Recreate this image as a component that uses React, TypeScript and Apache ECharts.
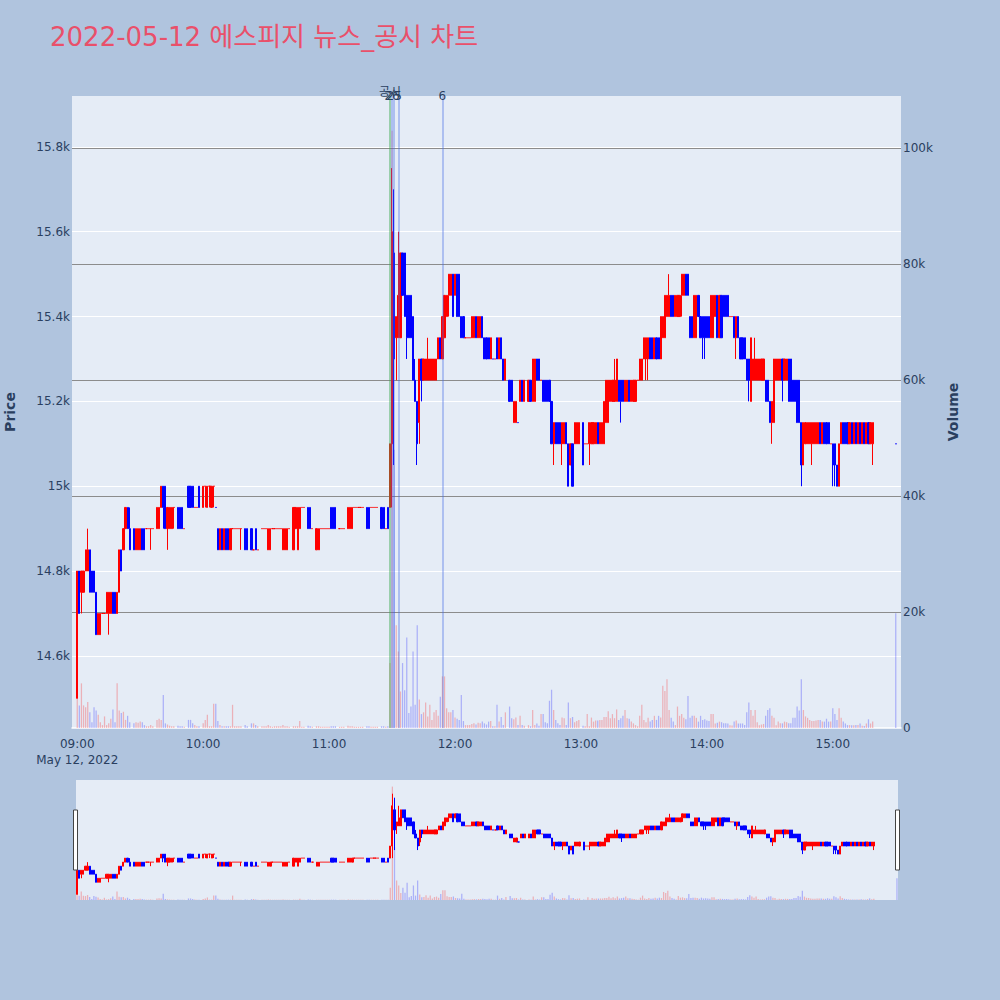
import React, { useEffect, useRef } from 'react';
import * as echarts from 'echarts';

const TITLE = '2022-05-12 에스피지 뉴스_공시 차트';
const DATE_LABEL = 'May 12, 2022';

// one row per traded minute: [minute of hour, open, close, low, high, volume]
const h09 = [
  [0, 14500, 14800, 14500, 14800, 10000], [1, 14800, 14700, 14700, 14800, 3900], [2, 14750, 14800, 14700, 14800, 7700],
  [3, 14750, 14800, 14750, 14800, 3900], [4, 14800, 14850, 14800, 14850, 3600], [5, 14800, 14850, 14800, 14900, 4500],
  [6, 14850, 14750, 14750, 14850, 2700], [7, 14800, 14750, 14750, 14800, 1000], [8, 14800, 14750, 14750, 14800, 3600],
  [9, 14750, 14650, 14650, 14750, 3000], [10, 14650, 14700, 14650, 14700, 2300], [11, 14650, 14700, 14650, 14700, 1000],
  [12, 14700, 14700, 14700, 14700, 500], [13, 14700, 14700, 14700, 14700, 2000], [14, 14700, 14750, 14700, 14750, 500],
  [15, 14700, 14750, 14650, 14750, 800], [16, 14700, 14750, 14700, 14750, 1600], [17, 14750, 14700, 14700, 14750, 3200],
  [18, 14750, 14700, 14700, 14750, 1000], [19, 14700, 14750, 14700, 14750, 7700], [20, 14750, 14850, 14750, 14850, 3000],
  [21, 14850, 14800, 14800, 14850, 2600], [22, 14850, 14900, 14850, 14900, 2800], [23, 14900, 14950, 14900, 14950, 1400],
  [24, 14950, 14900, 14900, 14950, 2100], [25, 14900, 14850, 14850, 14950, 1000], [27, 14900, 14850, 14850, 14900, 800],
  [28, 14850, 14900, 14850, 14900, 1000], [29, 14850, 14900, 14850, 14900, 900], [30, 14850, 14900, 14850, 14900, 1100],
  [31, 14900, 14850, 14850, 14900, 1000], [32, 14900, 14850, 14850, 14900, 500], [33, 14900, 14900, 14900, 14900, 300],
  [34, 14900, 14900, 14900, 14900, 300], [35, 14900, 14900, 14850, 14900, 500], [36, 14900, 14900, 14900, 14900, 300],
  [38, 14900, 14950, 14900, 14950, 1400], [39, 14900, 14950, 14900, 14950, 1600], [40, 14950, 15000, 14950, 15000, 1400],
  [41, 15000, 14950, 14900, 15000, 5700], [42, 15000, 14900, 14900, 15000, 800], [43, 14900, 14950, 14850, 14950, 600],
  [44, 14900, 14950, 14900, 14950, 400], [45, 14900, 14950, 14900, 14950, 300], [46, 14950, 14950, 14900, 14950, 300],
  [48, 14950, 14900, 14900, 14950, 400], [49, 14950, 14900, 14900, 14950, 300], [50, 14950, 14900, 14900, 14950, 300],
  [51, 14900, 14900, 14900, 14900, 200], [53, 15000, 14950, 14950, 15000, 1400], [54, 15000, 14950, 14950, 15000, 1400],
  [55, 15000, 14950, 14950, 15000, 800], [56, 14950, 14950, 14950, 14950, 500], [57, 14950, 14950, 14950, 14950, 300],
  [58, 15000, 14950, 14950, 15000, 300],
];

const h10 = [
  [0, 14950, 15000, 14950, 15000, 800], [1, 15000, 15000, 14950, 15000, 1400], [2, 14950, 15000, 14950, 15000, 2300],
  [3, 15000, 15000, 14950, 15000, 300], [4, 14950, 15000, 14950, 15000, 300], [5, 15000, 15000, 14950, 15000, 4200],
  [6, 14950, 14950, 14950, 14950, 4200], [7, 14900, 14850, 14850, 14900, 1200], [8, 14850, 14900, 14850, 14900, 500],
  [9, 14900, 14850, 14850, 14900, 300], [10, 14850, 14900, 14850, 14900, 300], [11, 14900, 14850, 14850, 14900, 300],
  [12, 14900, 14850, 14850, 14900, 300], [13, 14850, 14900, 14850, 14900, 300], [14, 14900, 14900, 14900, 14900, 4000],
  [15, 14900, 14900, 14900, 14900, 300], [16, 14900, 14900, 14900, 14900, 300], [17, 14900, 14900, 14900, 14900, 300],
  [18, 14900, 14900, 14850, 14900, 300], [20, 14900, 14850, 14850, 14900, 500], [21, 14900, 14850, 14850, 14900, 300],
  [23, 14900, 14850, 14850, 14900, 800], [24, 14850, 14850, 14850, 14850, 800], [25, 14900, 14850, 14850, 14900, 500],
  [26, 14850, 14850, 14850, 14850, 300], [28, 14900, 14900, 14900, 14900, 300], [29, 14900, 14900, 14900, 14900, 300],
  [30, 14900, 14900, 14900, 14900, 300], [31, 14850, 14900, 14850, 14900, 500], [32, 14850, 14900, 14850, 14900, 300],
  [33, 14900, 14900, 14900, 14900, 200], [34, 14900, 14900, 14900, 14900, 300], [35, 14900, 14900, 14900, 14900, 300],
  [36, 14900, 14900, 14900, 14900, 300], [37, 14900, 14900, 14900, 14900, 300], [38, 14850, 14900, 14850, 14900, 500],
  [39, 14850, 14900, 14850, 14900, 300], [40, 14850, 14900, 14850, 14900, 300], [41, 14900, 14900, 14900, 14900, 200],
  [43, 14850, 14950, 14850, 14950, 300], [44, 14900, 14950, 14900, 14950, 300], [45, 14850, 14950, 14850, 14950, 300],
  [46, 14900, 14950, 14900, 14950, 1200], [47, 14950, 14950, 14950, 14950, 200], [48, 14950, 14950, 14950, 14950, 200],
  [50, 14950, 14900, 14900, 14950, 400], [51, 14950, 14900, 14900, 14950, 300], [52, 14900, 14900, 14900, 14900, 200],
  [54, 14850, 14900, 14850, 14900, 300], [55, 14850, 14900, 14850, 14900, 300], [56, 14900, 14900, 14900, 14900, 200],
  [57, 14900, 14900, 14900, 14900, 200], [58, 14900, 14900, 14900, 14900, 200], [59, 14900, 14900, 14900, 14900, 200],
];

const h11 = [
  [0, 14900, 14900, 14900, 14900, 200], [1, 14950, 14900, 14900, 14950, 300], [2, 14950, 14900, 14900, 14950, 300],
  [3, 14950, 14900, 14900, 14950, 300], [5, 14900, 14900, 14900, 14900, 200], [6, 14900, 14900, 14900, 14900, 200],
  [7, 14900, 14900, 14900, 14900, 200], [9, 14900, 14950, 14900, 14950, 400], [10, 14900, 14950, 14900, 14950, 300],
  [11, 14900, 14950, 14900, 14950, 300], [12, 14950, 14950, 14950, 14950, 200], [13, 14950, 14950, 14950, 14950, 200],
  [14, 14950, 14950, 14950, 14950, 200], [15, 14950, 14950, 14950, 14950, 200], [16, 14950, 14950, 14950, 14950, 200],
  [18, 14950, 14900, 14900, 14950, 300], [19, 14950, 14900, 14900, 14950, 300], [20, 14950, 14950, 14950, 14950, 200],
  [21, 14950, 14950, 14950, 14950, 200], [22, 14950, 14950, 14950, 14950, 200], [23, 14950, 14950, 14950, 14950, 200],
  [25, 14950, 14900, 14900, 14950, 300], [26, 14950, 14900, 14900, 14950, 300], [27, 14900, 14900, 14900, 14900, 200],
  [28, 14950, 14900, 14900, 14950, 300], [29, 14950, 15100, 14950, 15100, 11200], [30, 15100, 15600, 14950, 15750, 103000],
  [31, 15550, 15300, 15050, 15700, 48000], [32, 15350, 15400, 15250, 15400, 17700], [33, 15350, 15450, 15350, 15600, 13200],
  [34, 15350, 15550, 15350, 15550, 6300], [35, 15550, 15450, 15450, 15550, 11200], [36, 15550, 15400, 15400, 15550, 6500],
  [37, 15450, 15350, 15300, 15450, 15600], [38, 15450, 15350, 15350, 15450, 2600], [39, 15450, 15350, 15350, 15450, 3700],
  [40, 15400, 15250, 15250, 15400, 13200], [41, 15250, 15200, 15200, 15300, 4000], [42, 15200, 15100, 15050, 15200, 17700],
  [43, 15150, 15300, 15100, 15300, 4900], [44, 15300, 15250, 15200, 15300, 2400], [45, 15250, 15300, 15250, 15300, 2700],
  [46, 15250, 15300, 15250, 15300, 4400], [47, 15250, 15300, 15250, 15350, 2000], [48, 15250, 15300, 15250, 15300, 4000],
  [49, 15250, 15300, 15250, 15300, 1400], [50, 15250, 15300, 15250, 15300, 2700], [51, 15250, 15300, 15250, 15300, 3100],
  [52, 15300, 15350, 15300, 15350, 2100], [53, 15350, 15300, 15300, 15350, 5400], [54, 15300, 15400, 15300, 15400, 8900],
  [55, 15350, 15450, 15350, 15450, 8900], [56, 15400, 15450, 15400, 15450, 3400], [57, 15450, 15500, 15400, 15500, 2700],
  [58, 15450, 15500, 15450, 15500, 2700], [59, 15500, 15400, 15400, 15500, 3100],
];

const h12 = [
  [0, 15450, 15500, 15450, 15500, 1800], [1, 15500, 15400, 15400, 15500, 1600], [2, 15500, 15400, 15400, 15500, 1400],
  [3, 15400, 15350, 15350, 15400, 5700], [4, 15400, 15350, 15350, 15400, 1200], [5, 15350, 15350, 15350, 15350, 500],
  [6, 15350, 15350, 15350, 15350, 500], [7, 15350, 15350, 15350, 15350, 500], [8, 15350, 15400, 15350, 15400, 700],
  [9, 15350, 15400, 15350, 15400, 800], [10, 15400, 15350, 15350, 15400, 600], [11, 15350, 15400, 15350, 15400, 900],
  [12, 15350, 15400, 15350, 15400, 800], [13, 15400, 15350, 15350, 15400, 1100], [14, 15350, 15300, 15300, 15350, 800],
  [15, 15350, 15300, 15300, 15350, 600], [16, 15350, 15300, 15300, 15350, 1100], [17, 15300, 15350, 15300, 15350, 1200],
  [18, 15300, 15300, 15300, 15300, 300], [19, 15300, 15300, 15300, 15300, 300], [20, 15350, 15300, 15300, 15350, 4000],
  [21, 15300, 15350, 15300, 15350, 1100], [22, 15350, 15300, 15300, 15350, 1900], [23, 15300, 15250, 15250, 15300, 500],
  [24, 15250, 15300, 15250, 15300, 2700], [26, 15250, 15200, 15200, 15250, 3700], [27, 15250, 15200, 15200, 15250, 1700],
  [28, 15150, 15200, 15150, 15200, 1500], [29, 15150, 15200, 15150, 15200, 1800], [30, 15150, 15150, 15150, 15150, 500],
  [31, 15200, 15250, 15200, 15250, 2100], [32, 15250, 15200, 15200, 15250, 500], [33, 15200, 15250, 15200, 15250, 400],
  [35, 15200, 15250, 15200, 15250, 500], [36, 15250, 15200, 15200, 15250, 300], [37, 15200, 15300, 15200, 15300, 3100],
  [38, 15200, 15300, 15200, 15300, 500], [39, 15300, 15250, 15250, 15300, 780], [40, 15300, 15250, 15250, 15300, 400],
  [41, 15250, 15250, 15250, 15250, 2400], [42, 15250, 15200, 15200, 15250, 2400], [43, 15250, 15200, 15200, 15250, 1000],
  [44, 15250, 15200, 15200, 15250, 800], [45, 15250, 15200, 15200, 15250, 4700], [46, 15200, 15100, 15100, 15200, 6600],
  [47, 15100, 15150, 15050, 15150, 3100], [48, 15150, 15100, 15100, 15150, 1400], [49, 15150, 15100, 15100, 15150, 800],
  [50, 15150, 15100, 15100, 15150, 500], [51, 15100, 15150, 15050, 15150, 1800], [52, 15100, 15150, 15100, 15150, 1700],
  [53, 15150, 15100, 15100, 15150, 500], [54, 15100, 15000, 15000, 15100, 4400], [55, 15050, 15100, 15050, 15100, 1700],
  [56, 15100, 15000, 15000, 15100, 1900], [57, 15100, 15150, 15100, 15150, 1000], [58, 15100, 15150, 15100, 15150, 1200],
  [59, 15100, 15150, 15100, 15150, 1400],
];

const h13 = [
  [1, 15150, 15050, 15050, 15150, 400], [2, 15100, 15100, 15100, 15100, 300], [3, 15100, 15100, 15100, 15100, 2400],
  [4, 15100, 15150, 15050, 15150, 300], [5, 15100, 15150, 15100, 15150, 1800], [6, 15100, 15150, 15100, 15150, 1100],
  [7, 15100, 15150, 15100, 15150, 1300], [8, 15150, 15100, 15100, 15150, 1300], [9, 15100, 15150, 15100, 15150, 1400],
  [10, 15100, 15150, 15100, 15150, 1400], [11, 15100, 15200, 15100, 15200, 1900], [12, 15150, 15250, 15150, 15250, 1900],
  [13, 15150, 15250, 15150, 15250, 2900], [14, 15200, 15250, 15200, 15250, 1700], [15, 15200, 15250, 15200, 15250, 2400],
  [16, 15200, 15250, 15200, 15300, 1700], [17, 15200, 15300, 15200, 15300, 3200], [18, 15250, 15200, 15200, 15250, 1400],
  [19, 15250, 15200, 15150, 15250, 1700], [20, 15250, 15200, 15200, 15250, 2100], [21, 15200, 15250, 15200, 15250, 3100],
  [22, 15200, 15250, 15200, 15250, 1700], [23, 15250, 15200, 15200, 15250, 1600], [24, 15200, 15250, 15200, 15250, 1100],
  [25, 15200, 15250, 15200, 15250, 800], [26, 15200, 15250, 15200, 15250, 500], [27, 15250, 15250, 15250, 15250, 300],
  [28, 15250, 15300, 15250, 15300, 2100], [29, 15250, 15300, 15250, 15300, 4000], [30, 15300, 15350, 15300, 15350, 1400],
  [31, 15300, 15350, 15250, 15350, 1000], [32, 15300, 15350, 15250, 15350, 1750], [33, 15350, 15300, 15300, 15350, 1100],
  [34, 15350, 15300, 15300, 15350, 1400], [35, 15300, 15350, 15300, 15350, 2100], [36, 15350, 15300, 15300, 15350, 1400],
  [37, 15350, 15300, 15300, 15350, 2100], [38, 15300, 15400, 15300, 15400, 1800], [39, 15350, 15400, 15350, 15400, 7300],
  [40, 15350, 15450, 15350, 15450, 6400], [41, 15400, 15450, 15400, 15450, 8400], [42, 15400, 15450, 15400, 15500, 3100],
  [43, 15450, 15400, 15400, 15450, 1750], [44, 15450, 15400, 15400, 15450, 1100], [45, 15400, 15450, 15400, 15450, 500],
  [46, 15400, 15450, 15400, 15450, 3700], [47, 15400, 15450, 15400, 15450, 2100], [48, 15450, 15500, 15400, 15500, 2400],
  [49, 15450, 15500, 15450, 15500, 1750], [50, 15500, 15450, 15450, 15500, 1500], [51, 15500, 15450, 15450, 15500, 5500],
  [52, 15400, 15350, 15350, 15400, 1750], [53, 15400, 15350, 15350, 15400, 2100], [54, 15350, 15450, 15350, 15450, 2100],
  [55, 15350, 15450, 15350, 15450, 1750], [56, 15450, 15400, 15400, 15450, 1100], [57, 15400, 15350, 15350, 15400, 2100],
  [58, 15400, 15350, 15300, 15400, 1400], [59, 15400, 15350, 15300, 15400, 1500],
];

const h14 = [
  [0, 15400, 15350, 15350, 15400, 1300], [1, 15400, 15350, 15350, 15400, 1200], [2, 15350, 15450, 15350, 15450, 2400],
  [3, 15350, 15450, 15350, 15450, 2400], [4, 15400, 15450, 15400, 15450, 780], [5, 15450, 15350, 15350, 15450, 900],
  [6, 15350, 15450, 15350, 15450, 1100], [7, 15450, 15350, 15350, 15450, 1000], [8, 15450, 15400, 15400, 15450, 800],
  [9, 15450, 15400, 15400, 15450, 800], [10, 15450, 15400, 15400, 15450, 780], [11, 15400, 15400, 15400, 15400, 455],
  [12, 15400, 15400, 15400, 15400, 450], [13, 15400, 15350, 15350, 15400, 1100], [14, 15350, 15400, 15300, 15400, 1300],
  [15, 15400, 15350, 15350, 15400, 780], [16, 15350, 15300, 15300, 15350, 780], [17, 15350, 15300, 15300, 15350, 780],
  [18, 15350, 15300, 15300, 15350, 500], [19, 15300, 15250, 15250, 15300, 2700], [20, 15300, 15250, 15200, 15300, 4400],
  [21, 15200, 15350, 15200, 15350, 3100], [22, 15250, 15300, 15250, 15300, 2100], [23, 15250, 15300, 15250, 15350, 3100],
  [24, 15250, 15300, 15250, 15300, 1000], [25, 15250, 15300, 15250, 15300, 455], [26, 15250, 15300, 15250, 15300, 600],
  [27, 15250, 15300, 15250, 15300, 700], [28, 15250, 15200, 15200, 15250, 2100], [29, 15250, 15200, 15200, 15250, 3100],
  [30, 15200, 15150, 15150, 15200, 3400], [31, 15150, 15200, 15100, 15200, 2100], [32, 15150, 15300, 15150, 15300, 1750],
  [33, 15250, 15300, 15250, 15300, 455], [34, 15250, 15300, 15250, 15300, 1100], [35, 15250, 15300, 15250, 15300, 800],
  [36, 15300, 15250, 15200, 15300, 800], [37, 15250, 15300, 15250, 15300, 1100], [38, 15250, 15300, 15250, 15300, 1000],
  [39, 15300, 15200, 15200, 15300, 800], [40, 15300, 15200, 15200, 15300, 800], [41, 15250, 15200, 15200, 15250, 1750],
  [42, 15250, 15200, 15200, 15250, 1750], [43, 15250, 15150, 15150, 15250, 3700], [44, 15250, 15150, 15150, 15250, 3000],
  [45, 15150, 15050, 15000, 15150, 8400], [46, 15050, 15150, 15050, 15150, 3100], [47, 15100, 15150, 15100, 15150, 2000],
  [48, 15100, 15150, 15100, 15150, 1750], [49, 15100, 15150, 15100, 15150, 1400], [50, 15100, 15150, 15050, 15150, 1200],
  [51, 15100, 15150, 15100, 15150, 1200], [52, 15100, 15150, 15100, 15150, 1300], [53, 15100, 15150, 15100, 15150, 1400],
  [54, 15150, 15100, 15100, 15150, 1400], [55, 15100, 15150, 15100, 15150, 1100], [56, 15150, 15100, 15100, 15150, 1100],
  [57, 15150, 15100, 15100, 15150, 1600], [58, 15150, 15100, 15100, 15150, 1100], [59, 15100, 15100, 15100, 15100, 1100],
];

const h15 = [
  [0, 15100, 15050, 15000, 15100, 3400], [1, 15100, 15050, 15000, 15100, 2400], [2, 15050, 15000, 15000, 15050, 1400],
  [3, 15000, 15100, 15000, 15100, 3400], [4, 15100, 15150, 15100, 15150, 1750], [5, 15150, 15100, 15100, 15150, 1100],
  [6, 15150, 15100, 15100, 15150, 780], [7, 15150, 15100, 15100, 15150, 500], [8, 15100, 15150, 15100, 15150, 500],
  [9, 15150, 15100, 15100, 15150, 455], [10, 15100, 15150, 15100, 15150, 455], [11, 15150, 15100, 15100, 15150, 500],
  [12, 15100, 15150, 15100, 15150, 500], [13, 15150, 15100, 15100, 15150, 780], [14, 15100, 15150, 15100, 15150, 400],
  [15, 15150, 15100, 15100, 15150, 350], [16, 15100, 15150, 15100, 15150, 780], [17, 15150, 15100, 15100, 15150, 1500],
  [18, 15100, 15150, 15100, 15150, 780], [19, 15100, 15150, 15050, 15150, 1100], [30, 15100, 15100, 15100, 15100, 19800],
];

const HOURS: [number, number[][]][] = [[9, h09], [10, h10], [11, h11], [12, h12], [13, h13], [14, h14], [15, h15]];

// vertical news / disclosure markers
const markerTimes = ['11:29', '11:30', '11:31', '11:33', '11:54'];
const markerLabels = ['공시', '26', '25', '', '6'];
const markerKinds = ['disclosure', 'news', 'news', 'news', 'news'];

const PRICE_MIN = 14430;
const PRICE_MAX = 15920;
const VOL_MAX = 109000;

const UP = '#ff0000';
const DOWN = '#0000ff';
const VOL_UP = 'rgba(255,0,0,0.25)';
const VOL_DOWN = 'rgba(0,0,255,0.25)';
const FONT = '"DejaVu Sans", Verdana, sans-serif';
const INK = '#2a3f5f';

const pad = (n: number) => (n < 10 ? '0' + n : '' + n);
const fmt = (t: number) => pad(Math.floor(t / 60)) + ':' + pad(t % 60);

const mainCats: string[] = [];
for (let t = 9 * 60 - 2; t <= 15 * 60 + 32; t++) mainCats.push(fmt(t));
const miniCats: string[] = [];
for (let t = 9 * 60; t <= 15 * 60 + 30; t++) miniCats.push(fmt(t));

type Bar = { o: number; c: number; l: number; h: number; v: number; up: boolean };
const byTime: Record<string, Bar> = {};
{
  let prevClose = NaN;
  HOURS.forEach(([hr, rows]) => {
    rows.forEach(([mm, o, c, l, h, v]) => {
      const up = c > o ? true : c < o ? false : !(c < prevClose);
      byTime[fmt(hr * 60 + mm)] = { o, c, l, h, v, up };
      prevClose = c;
    });
  });
}

const candleData = (cats: string[]) =>
  cats.map((t) => {
    const b = byTime[t];
    if (!b) return ['-', '-', '-', '-'];
    const col = b.up ? UP : DOWN;
    return { value: [b.o, b.c, b.l, b.h], itemStyle: { color: col, color0: col, borderColor: col, borderColor0: col } };
  });
const volData = (cats: string[]) =>
  cats.map((t) => {
    const b = byTime[t];
    if (!b) return '-';
    return { value: b.v, itemStyle: { color: b.up ? VOL_UP : VOL_DOWN } };
  });

const priceFmt = (v: number) => {
  const k = v / 1000;
  return (Number.isInteger(k) ? String(k) : k.toFixed(1)) + 'k';
};
const volFmt = (v: number) => (v === 0 ? '0' : v / 1000 + 'k');

const markLineData = markerTimes.map((t, i) => ({
  xAxis: t,
  name: markerLabels[i],
  lineStyle: {
    color: markerKinds[i] === 'disclosure' ? 'rgba(60,170,80,0.45)' : 'rgba(70,110,230,0.35)',
    width: 2,
    type: 'solid',
  },
  label: {
    show: markerLabels[i] !== '',
    position: 'end',
    formatter: markerLabels[i],
    color: INK,
    fontSize: 12,
    fontFamily: '"DejaVu Sans", "Noto Sans CJK KR", sans-serif',
    distance: markerKinds[i] === 'disclosure' ? -2 : -6,
  },
}));

const option: any = {
  animation: false,
  backgroundColor: '#B0C4DE',
  textStyle: { fontFamily: FONT },
  title: {
    text: TITLE,
    left: 50,
    top: 24,
    padding: 0,
    textStyle: {
      color: '#e9506a',
      fontSize: 26,
      fontWeight: 'normal',
      fontFamily: '"DejaVu Sans", "Noto Sans CJK KR", sans-serif',
    },
  },
  grid: [
    { left: 72, right: 99, top: 96, height: 632, show: true, backgroundColor: '#E5ECF6', borderWidth: 0, outerBoundsMode: 'none', containLabel: false },
    { left: 76, right: 102, top: 780, height: 120, show: true, backgroundColor: '#E5ECF6', borderWidth: 0, outerBoundsMode: 'none', containLabel: false },
  ],
  xAxis: [
    {
      gridIndex: 0,
      type: 'category',
      data: mainCats,
      boundaryGap: true,
      axisTick: { show: false },
      axisLine: { show: true, lineStyle: { color: '#ffffff', width: 1.5 } },
      splitLine: { show: false },
      axisLabel: {
        interval: (_i: number, v: string) => v.endsWith(':00'),
        formatter: (v: string) => (v === '09:00' ? v + '\n' + DATE_LABEL : v),
        color: INK,
        fontSize: 12,
        fontFamily: FONT,
        margin: 8,
        lineHeight: 16,
      },
    },
    { gridIndex: 1, type: 'category', data: miniCats, boundaryGap: true, show: false },
  ],
  yAxis: [
    {
      gridIndex: 0,
      type: 'value',
      position: 'left',
      min: PRICE_MIN,
      max: PRICE_MAX,
      splitNumber: 7,
      axisLine: { show: false },
      axisTick: { show: false },
      axisLabel: { formatter: priceFmt, color: INK, fontSize: 12, fontFamily: FONT, margin: 2, showMinLabel: false, showMaxLabel: false },
      splitLine: { show: true, lineStyle: { color: '#ffffff', width: 1 }, showMinLine: false, showMaxLine: false },
      name: 'Price',
      nameLocation: 'middle',
      nameRotate: 90,
      nameGap: 55,
      nameTextStyle: { color: INK, fontSize: 14, fontWeight: 'bold', fontFamily: FONT },
    },
    {
      gridIndex: 0,
      type: 'value',
      position: 'right',
      min: 0,
      max: VOL_MAX,
      splitNumber: 5,
      axisLine: { show: false },
      axisTick: { show: false },
      axisLabel: { formatter: volFmt, color: INK, fontSize: 12, fontFamily: FONT, margin: 2, showMaxLabel: false },
      splitLine: { show: true, lineStyle: { color: '#8c8c8c', width: 1 }, showMinLine: false, showMaxLine: false },
      name: 'Volume',
      nameLocation: 'middle',
      nameRotate: 90,
      nameGap: 45,
      nameTextStyle: { color: INK, fontSize: 14, fontWeight: 'bold', fontFamily: FONT },
    },
    { gridIndex: 1, type: 'value', min: PRICE_MIN, max: PRICE_MAX, show: false },
    { gridIndex: 1, type: 'value', min: 0, max: VOL_MAX, show: false },
  ],
  series: [
    {
      name: 'Volume',
      type: 'bar',
      xAxisIndex: 0,
      yAxisIndex: 1,
      data: volData(mainCats),
      barWidth: '60%',
      z: 1,
      silent: true,
      markLine: { symbol: ['none', 'none'], silent: true, data: markLineData },
    },
    {
      name: 'Price',
      type: 'candlestick',
      xAxisIndex: 0,
      yAxisIndex: 0,
      data: candleData(mainCats),
      barWidth: '80%',
      barMinWidth: 1,
      itemStyle: { borderWidth: 1 },
      z: 3,
      silent: true,
    },
    {
      type: 'bar',
      xAxisIndex: 1,
      yAxisIndex: 3,
      data: volData(miniCats),
      barWidth: '60%',
      silent: true,
    },
    {
      type: 'candlestick',
      xAxisIndex: 1,
      yAxisIndex: 2,
      data: candleData(miniCats),
      barWidth: '80%',
      barMinWidth: 1,
      itemStyle: { borderWidth: 1 },
      silent: true,
    },
  ],
  graphic: [
    { type: 'rect', shape: { x: 73.5, y: 810, width: 4, height: 60 }, style: { fill: '#ffffff', stroke: '#444444', lineWidth: 1 }, z: 10 },
    { type: 'rect', shape: { x: 895.5, y: 810, width: 4, height: 60 }, style: { fill: '#ffffff', stroke: '#444444', lineWidth: 1 }, z: 10 },
  ],
};

export default function App() {
  const ref = useRef<HTMLDivElement>(null);
  useEffect(() => {
    document.body.style.margin = '0';
    const chart = echarts.init(ref.current as HTMLDivElement, null, { renderer: 'svg' });
    chart.setOption(option);
    return () => chart.dispose();
  }, []);
  return <div ref={ref} style={{ width: 1000, height: 1000 }} />;
}
